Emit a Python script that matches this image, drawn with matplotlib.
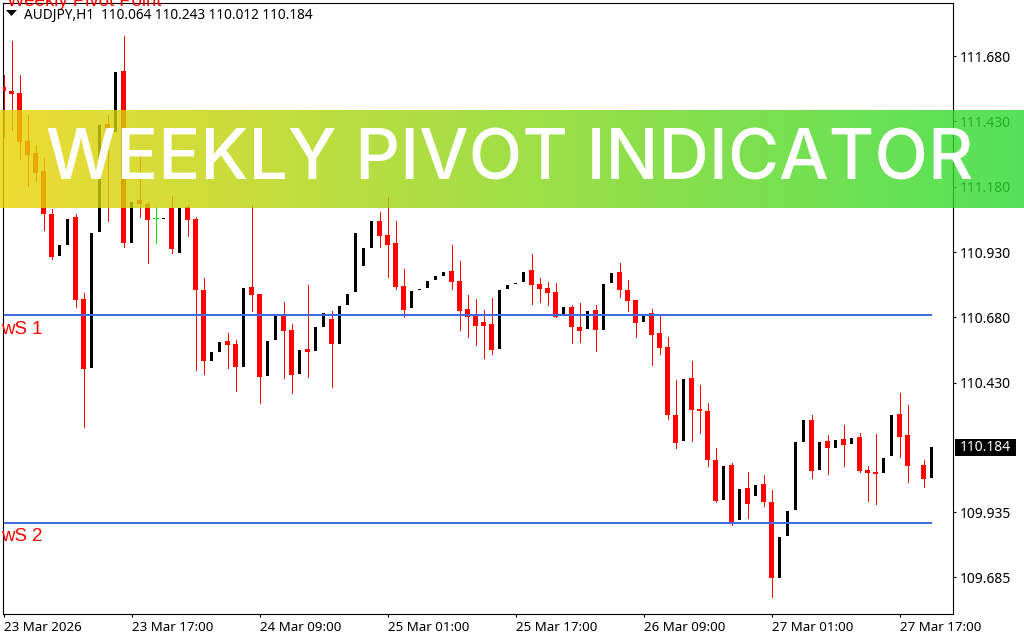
import numpy as np
import matplotlib
matplotlib.use('Agg')
import matplotlib.pyplot as plt
from matplotlib.colors import LinearSegmentedColormap
from matplotlib.patches import Polygon, Rectangle

nan = float('nan')

opens = [111.561, 111.546, 111.539, 111.355, 111.309, 111.240, 111.076, 110.915, 110.957, 111.064,
         110.750, 110.486, 111.007, 111.420, 111.389, 111.623, 110.965, 111.129, 111.114, 111.060,
         111.056, 111.098, 110.926, 111.102, 111.056, 110.785, 110.513, 110.547, 110.590, 110.578,
         110.490, 110.796, 110.770, 110.455, 110.593, 110.685, 110.632, 110.463, 110.559, 110.551,
         110.643, 110.674, 110.578, 110.728, 110.778, 110.877, 110.946, 111.049, 110.995, 110.965,
         110.800, 110.716, 110.785, 110.793, 110.823, 110.838, 110.857, 110.819, 110.712, 110.693,
         110.662, 110.655, 110.559, 110.789, 110.808, 110.815, 110.861, 110.808, 110.793, 110.778,
         110.693, 110.720, 110.643, 110.635, 110.708, 110.632, 110.812, 110.853, 110.785, 110.747,
         110.662, 110.697, 110.620, 110.567, 110.307, 110.207, 110.448, 110.329, 110.322, 110.134,
         109.981, 110.115, 109.905, 110.027, 109.996, 110.042, 109.973, 109.683, 109.844, 109.943,
         110.203, 110.287, 110.096, 110.207, 110.180, 110.215, 110.196, 110.222, 110.096, 110.088,
         110.085, 110.150, 110.310, 110.230, nan, 110.115, 110.064]
closes = [111.546, 111.535, 111.351, 111.302, 111.233, 111.076, 110.911, 110.957, 111.056, 110.747,
          110.482, 111.003, 111.416, 111.366, 111.619, 110.965, 111.122, 111.114, 111.053, 111.060,
          111.060, 110.942, 111.098, 111.053, 110.785, 110.513, 110.547, 110.586, 110.574, 110.490,
          110.793, 110.766, 110.451, 110.590, 110.689, 110.628, 110.459, 110.555, 110.547, 110.643,
          110.697, 110.578, 110.724, 110.770, 111.003, 110.946, 111.049, 110.991, 110.957, 110.796,
          110.708, 110.781, 110.789, 110.819, 110.838, 110.853, 110.815, 110.705, 110.682, 110.647,
          110.647, 110.555, 110.785, 110.804, 110.812, 110.853, 110.804, 110.789, 110.773, 110.682,
          110.720, 110.643, 110.628, 110.705, 110.632, 110.808, 110.850, 110.785, 110.743, 110.659,
          110.689, 110.613, 110.563, 110.307, 110.199, 110.444, 110.326, 110.322, 110.134, 109.977,
          110.111, 109.897, 110.023, 109.966, 110.038, 109.973, 109.683, 109.840, 109.939, 110.203,
          110.287, 110.092, 110.203, 110.180, 110.211, 110.192, 110.218, 110.092, 110.085, 110.081,
          110.142, 110.307, 110.222, 110.111, nan, 110.062, 110.184]
highs = [111.608, 111.737, 111.608, 111.455, 111.340, 111.290, 111.095, 110.957, 111.056, 111.076,
         110.773, 111.003, 111.416, 111.455, 111.619, 111.757, 111.122, 111.321, 111.122, 111.102,
         111.060, 111.144, 111.098, 111.110, 111.064, 110.831, 110.547, 110.586, 110.620, 110.593,
         110.793, 111.110, 110.770, 110.590, 110.689, 110.739, 110.655, 110.555, 110.804, 110.643,
         110.697, 110.705, 110.724, 110.770, 111.003, 110.946, 111.049, 111.083, 111.140, 111.049,
         110.865, 110.781, 110.789, 110.819, 110.838, 110.853, 110.957, 110.896, 110.766, 110.750,
         110.708, 110.754, 110.785, 110.804, 110.812, 110.853, 110.923, 110.831, 110.815, 110.812,
         110.720, 110.728, 110.735, 110.705, 110.728, 110.808, 110.850, 110.888, 110.823, 110.747,
         110.689, 110.712, 110.685, 110.605, 110.440, 110.444, 110.513, 110.421, 110.352, 110.180,
         110.111, 110.123, 110.023, 110.088, 110.038, 110.077, 110.019, 109.840, 109.939, 110.203,
         110.287, 110.307, 110.203, 110.230, 110.211, 110.268, 110.218, 110.237, 110.111, 110.234,
         110.142, 110.307, 110.391, 110.345, nan, 110.134, 110.184]
lows = [111.370, 111.397, 111.286, 111.183, 111.202, 111.014, 110.904, 110.915, 110.957, 110.720,
        110.260, 110.486, 111.007, 111.049, 111.389, 110.949, 110.965, 111.064, 110.888, 110.965,
        111.056, 110.926, 110.926, 110.991, 110.479, 110.463, 110.513, 110.547, 110.486, 110.398,
        110.490, 110.705, 110.352, 110.455, 110.593, 110.448, 110.391, 110.463, 110.451, 110.551,
        110.643, 110.413, 110.578, 110.728, 110.778, 110.877, 110.946, 110.949, 110.835, 110.789,
        110.682, 110.716, 110.785, 110.793, 110.823, 110.838, 110.789, 110.632, 110.605, 110.574,
        110.525, 110.540, 110.559, 110.789, 110.808, 110.815, 110.731, 110.739, 110.728, 110.682,
        110.693, 110.582, 110.586, 110.635, 110.551, 110.632, 110.812, 110.758, 110.705, 110.605,
        110.662, 110.498, 110.540, 110.291, 110.180, 110.207, 110.207, 110.237, 110.111, 109.973,
        109.981, 109.886, 109.905, 109.912, 109.996, 109.958, 109.610, 109.683, 109.844, 109.943,
        110.203, 110.065, 110.096, 110.081, 110.180, 110.111, 110.196, 110.088, 109.977, 109.966,
        110.085, 110.150, 110.146, 110.050, nan, 110.031, 110.064]

price_ticks = [109.685, 109.935, 110.430, 110.680, 110.930, 111.180, 111.430, 111.680]
date_ticks = [0, 16, 32, 48, 64, 80, 96, 112]
date_labels = ['23 Mar 2026', '23 Mar 17:00', '24 Mar 09:00', '25 Mar 01:00',
               '25 Mar 17:00', '26 Mar 09:00', '27 Mar 01:00', '27 Mar 17:00']
ws1 = 110.689
ws2 = 109.894
last_price = 110.184
header = 'AUDJPY,H1  110.064 110.243 110.012 110.184'

W, H = 1024, 640
ui_font = 'Noto Sans'


def fx(px):
    return px / W


def fy(px):
    return 1 - px / H


fig = plt.figure(figsize=(W / 100, H / 100), dpi=100, facecolor='white')
ax = fig.add_axes([fx(2.5), fy(613.5), (952.5 - 2.5) / W, (613.5 - 2.5) / H])
ax.set_xlim(-0.125, 118.625)
ax.set_ylim(109.5467, 111.885)

opens = np.array(opens)
closes = np.array(closes)
highs = np.array(highs)
lows = np.array(lows)
idx = np.arange(len(opens))

up = closes > opens
down = closes < opens
doji = closes == opens

# black bars have no visible wick in the terminal, only the red ones do
ax.vlines(idx[down], lows[down], highs[down], color='#ff0000', lw=0.72, zorder=2, antialiased=False)
ax.vlines(idx[doji], lows[doji], highs[doji], color='#00e000', lw=0.72, zorder=2, antialiased=False)
ax.bar(idx[down], (opens - closes)[down], bottom=closes[down], width=0.625,
       color='#ff0000', lw=0, zorder=3, antialiased=False)
ax.bar(idx[up], (closes - opens)[up], bottom=opens[up], width=0.375,
       color='black', lw=0, zorder=3, antialiased=False)
ax.hlines(closes[doji], idx[doji] - 0.3, idx[doji] + 0.3, color='#00e000', lw=0.72, zorder=3,
          antialiased=False)

ax.hlines([ws1, ws2], 0, 116, color='#4169e1', lw=1.44, zorder=4, antialiased=False)

for s in ax.spines.values():
    s.set_linewidth(0.8)
    s.set_color('black')

ax.yaxis.tick_right()
ax.set_yticks(price_ticks)
ax.set_yticklabels(['%.3f' % p for p in price_ticks], fontsize=10, family=ui_font, color='black')
ax.tick_params(axis='y', length=2.5, width=0.8, pad=3)
ax.set_xticks(date_ticks)
ax.set_xticklabels(date_labels, fontsize=9.6, family=ui_font, ha='left')
ax.tick_params(axis='x', length=2.5, width=0.8, pad=3)

# last price box
fig.add_artist(Rectangle((fx(955), fy(456)), 61 / W, 17 / H, transform=fig.transFigure,
                         facecolor='black', edgecolor='none', zorder=5))
fig.text(fx(960), fy(447.5), '%.3f' % last_price, color='white', fontsize=10, family=ui_font,
         va='center', ha='left', zorder=6)

# indicator labels
fig.text(fx(1), fy(334), 'wS 1', color='red', fontsize=13.4, family='Liberation Sans', va='baseline')
fig.text(fx(1), fy(541), 'wS 2', color='red', fontsize=13.4, family='Liberation Sans', va='baseline')
fig.text(fx(7), fy(6), 'Weekly Pivot Point', color='red', fontsize=13.4,
         family='Liberation Sans', va='baseline')

# header with the small triangle
fig.add_artist(Polygon([(fx(6), fy(10)), (fx(17), fy(10)), (fx(11.5), fy(16))], closed=True,
                       transform=fig.transFigure, facecolor='black', edgecolor='none', zorder=6))
fig.text(fx(24), fy(18.5), header, color='black', fontsize=9.8, family=ui_font, va='baseline')

# banner on top of everything
banner = fig.add_axes([0, fy(208), 1, 98 / H], zorder=10)
cmap = LinearSegmentedColormap.from_list('banner', ['#ead300', '#29db31'])
banner.imshow(np.linspace(0, 1, 512).reshape(1, -1), cmap=cmap, aspect='auto', alpha=0.8)
banner.axis('off')
fig.text(fx(510), fy(179.5), 'WEEKLY PIVOT INDICATOR', color='white', fontsize=50.3, family='Inter',
         fontweight='medium', ha='center', va='baseline', zorder=11)

plt.savefig('out.png', dpi=100)
